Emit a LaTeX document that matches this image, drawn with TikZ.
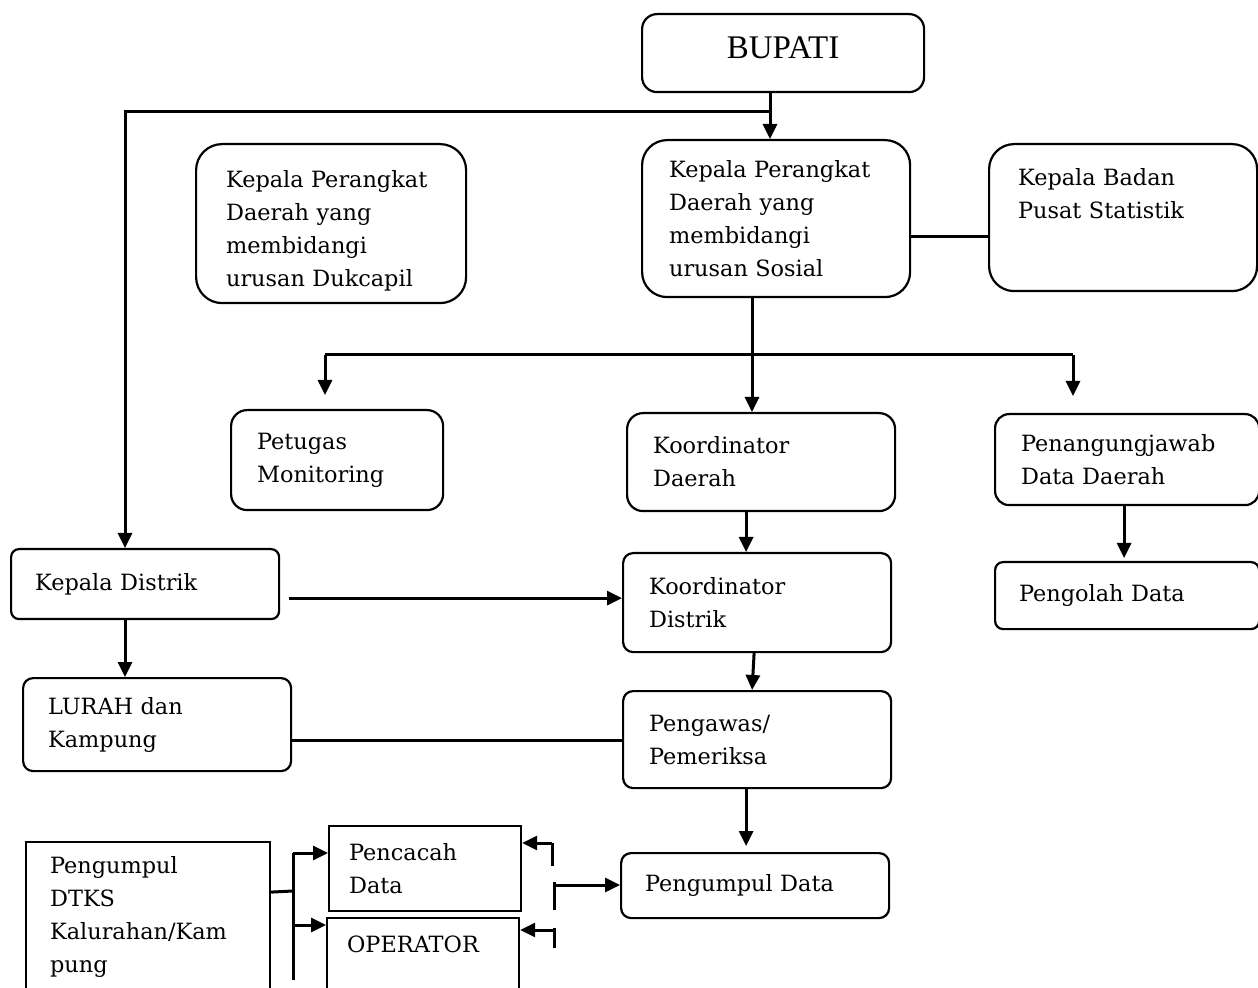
\documentclass[tikz,border=0pt]{standalone}
\usepackage{fontspec}
\setmainfont{DejaVu Serif}
\newfontfamily\headfont{Liberation Serif}
\usetikzlibrary{arrows.meta, calc}

\begin{document}
\begin{tikzpicture}[
  x=0.5pt, y=-0.5pt,
  box/.style={draw, line width=1.1pt, rounded corners=#1, anchor=north west, align=left, inner ysep=0pt, font=\fontsize{11.2}{16.5}\selectfont},
  box/.default=8pt,
  sqbox/.style={draw, line width=1.1pt, anchor=north west, align=left, inner ysep=0pt, font=\fontsize{11.2}{16.5}\selectfont},
  conn/.style={line width=1.5pt},
  arr/.style={-{Triangle[length=7.5pt, width=7pt]}, line width=1.5pt},
]
\useasboundingbox (0,0) rectangle (1258,988);
\clip (0,0) rectangle (1258,988);

\node[box=7.5pt, align=center, minimum width=141pt, minimum height=39pt, inner sep=0pt, text height=13pt, text depth=8pt, font=\headfont\fontsize{16.5}{18}\selectfont] (bupati) at (641,13) {BUPATI};

\node[box=13pt, inner xsep=15pt, text width=105pt, text height=21.5pt, text depth=58pt] (dukcapil) at (195,143)
  {Kepala Perangkat\\Daerah yang\\membidangi\\urusan Dukcapil};
\node[box=12.5pt, inner xsep=13.5pt, text width=107pt, minimum height=78.5pt] (sosial) at (641,139)
  {Kepala Perangkat\\Daerah yang\\membidangi\\urusan Sosial};
\node[box=12.5pt, inner xsep=14.5pt, text width=105pt, text height=20.5pt, text depth=53pt] (bps) at (988,143)
  {Kepala Badan\\Pusat Statistik};

\node[box, inner xsep=13pt, text width=80pt, minimum height=50pt] (petugas) at (230,409) {Petugas\\Monitoring};
\node[box, inner xsep=13pt, text width=108pt, minimum height=49pt] (koorddaerah) at (626,412) {Koordinator\\Daerah};
\node[box=7pt, inner xsep=13pt, text width=106pt, minimum height=45.5pt] (penanggung) at (994,413) {Penangungjawab\\Data Daerah};
\node[box=4pt, inner xsep=12pt, text width=108pt, minimum height=33.5pt] (pengolah) at (994,561) {Pengolah Data};

\node[box=4pt, inner xsep=12pt, text width=110pt, minimum height=35pt] (kepdistrik) at (10,548) {Kepala Distrik};
\node[box=5pt, inner xsep=13pt, text width=108pt, minimum height=49.5pt] (koorddistrik) at (622,552) {Koordinator\\Distrik};
\node[box=5pt, inner xsep=12.5pt, text width=109pt, minimum height=46.5pt] (lurah) at (22,677) {LURAH dan\\Kampung};
\node[box=5pt, inner xsep=13pt, text width=108pt, minimum height=48.5pt] (pengawas) at (622,690) {Pengawas/\\Pemeriksa};
\node[box=5pt, inner xsep=12pt, text width=110pt, minimum height=32.5pt] (pengdata) at (620,852) {Pengumpul Data};

\node[sqbox, inner xsep=12pt, text width=98pt, minimum height=75pt] (dtks) at (25,841)
  {Pengumpul\\DTKS\\Kalurahan/Kam\\pung};
\node[sqbox, inner xsep=10pt, text width=76pt, minimum height=42.5pt] (pencacah) at (328,825) {Pencacah\\Data};
\node[sqbox, inner xsep=10pt, text width=76pt, text height=17pt, text depth=23pt] (operator) at (326,917) {OPERATOR};

% junctions
\coordinate (jb) at (770,112);
\coordinate (jl) at (125,112);
\coordinate (js) at (752,355);
\coordinate (jsl) at (325,355);
\coordinate (jsr) at (1073,355);
\coordinate (jd) at (293,891);
\coordinate (jdt) at (293,853);
\coordinate (jdo) at (293,925);
\coordinate (jdb) at (293,980);
\coordinate (jpt) at (552,843);
\coordinate (jpm) at (554,885);
\coordinate (jpb) at (554,930);

\draw[conn] (bupati.south -| jb) -- (jb);
\draw[arr] (jb) -- (jb |- sosial.north);
\draw[arr] (jb) -- (jl) -- (jl |- kepdistrik.north);
\draw[conn] ([yshift=-9pt]sosial.east) -- ([yshift=-9pt]sosial.east -| bps.west);

\draw[conn] (sosial.south -| js) -- (js);
\draw[arr] (js) -- (js |- koorddaerah.north);
\draw[conn] (jsl) -- (jsr);
\draw[arr] (jsl) -- ([yshift=7pt]jsl |- petugas.north);
\draw[arr] (jsr) -- ([yshift=8.5pt]jsr |- penanggung.north);
\draw[arr] ([xshift=-1.5pt]penanggung.south) -- ([xshift=-1.5pt,yshift=1.5pt]penanggung.south |- pengolah.north);

\draw[arr] ([xshift=-7.5pt]koorddaerah.south) -- ([xshift=-7.5pt]koorddaerah.south |- koorddistrik.north);
\draw[arr] ([shift={(4.5pt,-7pt)}]kepdistrik.east) -- ([yshift=-7pt]kepdistrik.east -| koorddistrik.west);
\draw[arr] (kepdistrik.south -| jl) -- (lurah.north -| jl);
\draw[arr] ([xshift=-1.5pt]koorddistrik.south) -- ([xshift=-2.5pt]pengawas.north);
\draw[conn] ([yshift=-8pt]lurah.east) -- ([yshift=-8pt]lurah.east -| pengawas.west);
\draw[arr] ([xshift=-5.5pt]pengawas.south) -- ([xshift=-5.5pt,yshift=3pt]pengawas.south |- pengdata.north);

\draw[conn] ([yshift=12.5pt]dtks.east) -- (jd);
\draw[conn] (jdt) -- (jdb);
\draw[arr] (jdt) -- (jdt -| pencacah.west);
\draw[arr] (jdo) -- (jdo -| operator.west);

\draw[conn] (jpt) -- ++(0,23);
\draw[conn] ([yshift=1.5pt]jpm) -- ++(0,28);
\draw[conn] ([yshift=1pt]jpb) -- ++(0,20);
\draw[arr] (jpt) -- (jpt -| pencacah.east);
\draw[arr] (jpm) -- (jpm -| pengdata.west);
\draw[arr] (jpb) -- (jpb -| operator.east);
\end{tikzpicture}
\end{document}
